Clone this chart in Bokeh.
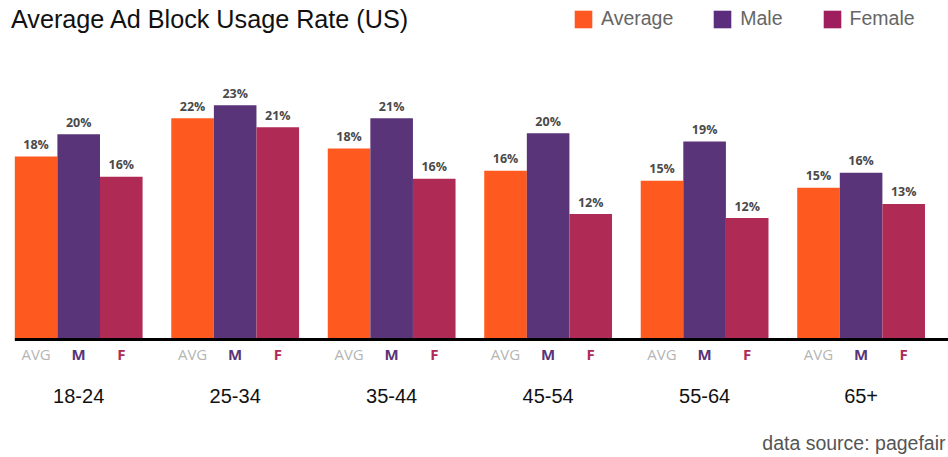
from bokeh.plotting import figure
from bokeh.models import Range1d, Label, Legend, LegendItem, ColumnDataSource
from bokeh.core.properties import value
from bokeh.embed import file_html
from bokeh.resources import INLINE

# ---- data ----
groups = ["18-24", "25-34", "35-44", "45-54", "55-64", "65+"]
series = ["Average", "Male", "Female"]
short_names = ["AVG", "M", "F"]
avg_vals = [18.0, 21.8, 18.8, 16.6, 15.6, 14.9]
male_vals = [20.2, 23.1, 21.8, 20.3, 19.5, 16.4]
female_vals = [16.0, 20.9, 15.8, 12.3, 11.9, 13.3]
avg_labels = ["18%", "22%", "18%", "16%", "15%", "15%"]
male_labels = ["20%", "23%", "21%", "20%", "19%", "16%"]
female_labels = ["16%", "21%", "16%", "12%", "12%", "13%"]

# ---- styles ----
bar_colors = ["#FE5A1F", "#5A3478", "#B02A56"]
legend_colors = ["#FF5722", "#5B2D7C", "#9E1E5E"]
sub_colors = ["#B5B5B5", "#5A3478", "#B02A56"]
sub_weights = ["normal", "bold", "bold"]
BW = 0.2722
offsets = [-BW, 0.0, BW]

W, H = 948, 457
X0, X1 = -0.4997, 5.5586
p = figure(width=W, height=H, output_backend="svg", toolbar_location=None,
           x_range=Range1d(X0, X1), y_range=Range1d(-11.855, 33.48),
           x_axis_location=None, y_axis_location=None, title=None,
           min_border=0, outline_line_color=None)
p.xgrid.visible = False
p.ygrid.visible = False
p.background_fill_color = "white"
p.border_fill_color = "white"

vals = [avg_vals, male_vals, female_vals]
labs = [avg_labels, male_labels, female_labels]
xs_group = list(range(len(groups)))

for k in range(3):
    xs = [g + offsets[k] for g in xs_group]
    src = ColumnDataSource(dict(x=xs, top=vals[k], lab=labs[k],
                                sub=[short_names[k]] * len(groups)))
    p.vbar(x="x", top="top", bottom=0, width=BW, source=src,
           fill_color=bar_colors[k], line_color=None)
    p.text(x="x", y="top", text="lab", source=src, text_align="center",
           text_baseline="alphabetic", y_offset=-12,
           text_font=value("Open Sans"), text_font_size="12.5px",
           text_font_style="bold", text_color="#4A4A4A")
    p.text(x="x", y=-1.567, text="sub", source=src, text_align="center",
           text_baseline="middle", text_font=value("Open Sans"),
           text_font_size="15px", text_font_style=sub_weights[k],
           text_color=sub_colors[k])

# baseline
p.segment(x0=[xs_group[0] + offsets[0] - BW / 2], y0=[-0.149],
          x1=[X1], y1=[-0.149], line_color="black", line_width=3)

# group labels
gsrc = ColumnDataSource(dict(x=xs_group, t=groups))
p.text(x="x", y=-5.78, text="t", source=gsrc, text_align="center",
       text_baseline="middle", text_font=value("Liberation Sans"),
       text_font_size="20px", text_color="#111111")

# legend proxies (zero-height, invisible on the plot)
items = []
for k in range(3):
    r = p.vbar(x=[xs_group[0]], top=[0], bottom=0, width=0,
               fill_color=legend_colors[k], line_color=None)
    items.append(LegendItem(label=series[k], renderers=[r]))
legend = Legend(items=items, orientation="horizontal", location=(572, 427),
                glyph_width=22, glyph_height=22, label_standoff=7, spacing=38,
                padding=0, margin=0, border_line_color=None,
                background_fill_alpha=0, label_text_font="Liberation Sans",
                label_text_font_size="19.5px", label_text_color="#666666")
p.add_layout(legend)

# title and source
p.add_layout(Label(x=10.5, y=439, x_units="screen", y_units="screen",
                   text="Average Ad Block Usage Rate (US)",
                   text_font="Liberation Sans", text_font_size="25.2px",
                   text_baseline="alphabetic", text_color="#111111"))
p.add_layout(Label(x=945, y=15, x_units="screen", y_units="screen",
                   text="data source: pagefair", text_align="right",
                   text_font="Liberation Sans", text_font_size="19.5px",
                   text_baseline="alphabetic", text_color="#555555"))

open("out.html", "w").write(file_html(p, INLINE))
